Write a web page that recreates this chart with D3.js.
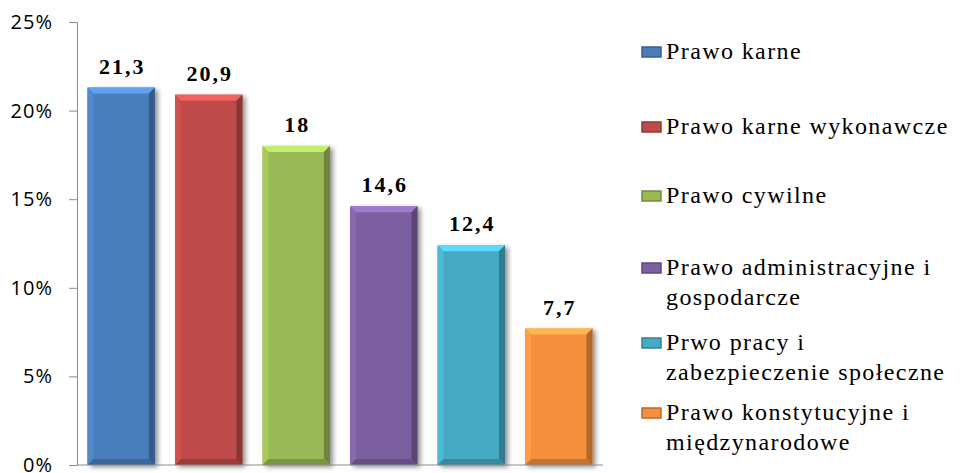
<!DOCTYPE html>
<html>
<head>
<meta charset="utf-8">
<script src="https://cdn.jsdelivr.net/npm/d3@7"></script>
<style>
  body { margin: 0; background: #fff; }
  svg { display: block; }
</style>
</head>
<body>
<div id="chart"></div>
<script>
// data
const categories = ["Prawo karne", "Prawo karne wykonawcze", "Prawo cywilne",
    "Prawo administracyjne i gospodarcze", "Prwo pracy i zabezpieczenie społeczne",
    "Prawo konstytucyjne i międzynarodowe"];
const values = [21.3, 20.9, 18, 14.6, 12.4, 7.7];
const valueLabels = ["21,3", "20,9", "18", "14,6", "12,4", "7,7"];
const legendLines = [["Prawo karne"], ["Prawo karne wykonawcze"], ["Prawo cywilne"],
    ["Prawo administracyjne i", "gospodarcze"], ["Prwo pracy i", "zabezpieczenie społeczne"],
    ["Prawo konstytucyjne i", "międzynarodowe"]];
const colors = ["#4a7ebb", "#be4b48", "#98b954", "#7d60a0", "#46aac5", "#f38f3e"];
const yTicks = [0, 5, 10, 15, 20, 25];

let width = 960, height = 473;
let margin = {left: 77, top: 22, right: 357, bottom: 8};
const serif = "Liberation Serif, DejaVu Serif, serif";

var svg = d3.select("#chart").append("svg")
    .attr("width", width)
    .attr("height", height);

const defs = svg.append("defs");
const shadow = defs.append("filter").attr("id", "shadow")
    .attr("x", "-20%").attr("y", "-20%").attr("width", "150%").attr("height", "140%");
shadow.append("feGaussianBlur").attr("in", "SourceAlpha").attr("stdDeviation", 2.5);
shadow.append("feOffset").attr("dx", 3).attr("dy", 2).attr("result", "blur");
shadow.append("feComponentTransfer").append("feFuncA").attr("type", "linear").attr("slope", 0.45);
const merge = shadow.append("feMerge");
merge.append("feMergeNode");
merge.append("feMergeNode").attr("in", "SourceGraphic");

var x = d3.scaleBand()
    .domain(categories)
    .range([margin.left, width - margin.right])
    .paddingInner(0.23)
    .paddingOuter(0.12);

var y = d3.scaleLinear()
    .domain([0, 25])
    .range([height - margin.bottom, margin.top]);

// y axis
const yAxis = svg.append("g")
    .attr("transform", "translate(" + margin.left + ",0)")
    .call(d3.axisLeft(y).tickValues(yTicks).tickSize(8).tickPadding(16)
        .tickFormat(d => d + "%"));
yAxis.attr("font-family", "Open Sans, DejaVu Sans, sans-serif").attr("font-size", 20);
yAxis.select(".domain").attr("stroke", "#8c8c8c");
yAxis.selectAll(".tick line").attr("stroke", "#8c8c8c");
yAxis.selectAll("text")
    .attr("fill", "#000")
    .attr("letter-spacing", 1);

// bars
const bev = 6;
const bars = svg.append("g").selectAll("g.bar")
    .data(categories)
    .enter()
    .append("g")
    .attr("class", "bar");

bars.each(function(c, i) {
    const g = d3.select(this);
    const x0 = x(c), w = x.bandwidth();
    const y0 = y(values[i]), y1 = y(0);
    const col = d3.color(colors[i]);
    g.append("rect")
        .attr("x", x0).attr("y", y0)
        .attr("width", w).attr("height", y1 - y0)
        .attr("fill", colors[i])
        .attr("filter", "url(#shadow)");
    // bevel edges
    const pts = (a) => a.map(p => p.join(",")).join(" ");
    g.append("polygon")
        .attr("points", pts([[x0, y0], [x0 + w, y0], [x0 + w - bev, y0 + bev], [x0 + bev, y0 + bev]]))
        .attr("fill", col.brighter(0.7));
    g.append("polygon")
        .attr("points", pts([[x0, y0], [x0 + bev, y0 + bev], [x0 + bev, y1 - bev], [x0, y1]]))
        .attr("fill", col.brighter(0.25));
    g.append("polygon")
        .attr("points", pts([[x0 + w, y0], [x0 + w, y1], [x0 + w - bev, y1 - bev], [x0 + w - bev, y0 + bev]]))
        .attr("fill", col.darker(0.9));
    g.append("polygon")
        .attr("points", pts([[x0, y1], [x0 + bev, y1 - bev], [x0 + w - bev, y1 - bev], [x0 + w, y1]]))
        .attr("fill", col.darker(0.6));
});

// value labels
svg.append("g").selectAll("text")
    .data(categories)
    .enter()
    .append("text")
    .attr("font-family", serif)
    .attr("font-weight", "bold")
    .attr("font-size", 22)
    .attr("letter-spacing", 2)
    .attr("x", d => x(d) + x.bandwidth() / 2 + 1)
    .attr("y", (d, i) => y(values[i]) - 14)
    .attr("text-anchor", "middle")
    .text((d, i) => valueLabels[i]);

// x axis line
svg.append("line")
    .attr("x1", margin.left).attr("x2", width - margin.right)
    .attr("y1", y(0)).attr("y2", y(0))
    .attr("stroke", "#8c8c8c");

// legend
const legendY = [52, 127, 196, 268, 343, 413];
const legend = svg.append("g").selectAll("g")
    .data(categories)
    .enter()
    .append("g")
    .attr("transform", (d, i) => "translate(642," + legendY[i] + ")");

legend.append("rect")
    .attr("x", 0).attr("y", -5)
    .attr("width", 19).attr("height", 10)
    .attr("fill", (d, i) => colors[i])
    .attr("stroke", (d, i) => d3.color(colors[i]).darker(0.8))
    .attr("stroke-width", 1.5);

legend.append("text")
    .attr("font-family", serif)
    .attr("font-size", 24)
    .attr("letter-spacing", 1.4)
    .attr("x", 24)
    .attr("y", 7)
    .selectAll("tspan")
    .data((d, i) => legendLines[i])
    .enter()
    .append("tspan")
    .attr("x", 24)
    .attr("dy", (d, j) => j == 0 ? 0 : 30)
    .text(d => d);
</script>
</body>
</html>
